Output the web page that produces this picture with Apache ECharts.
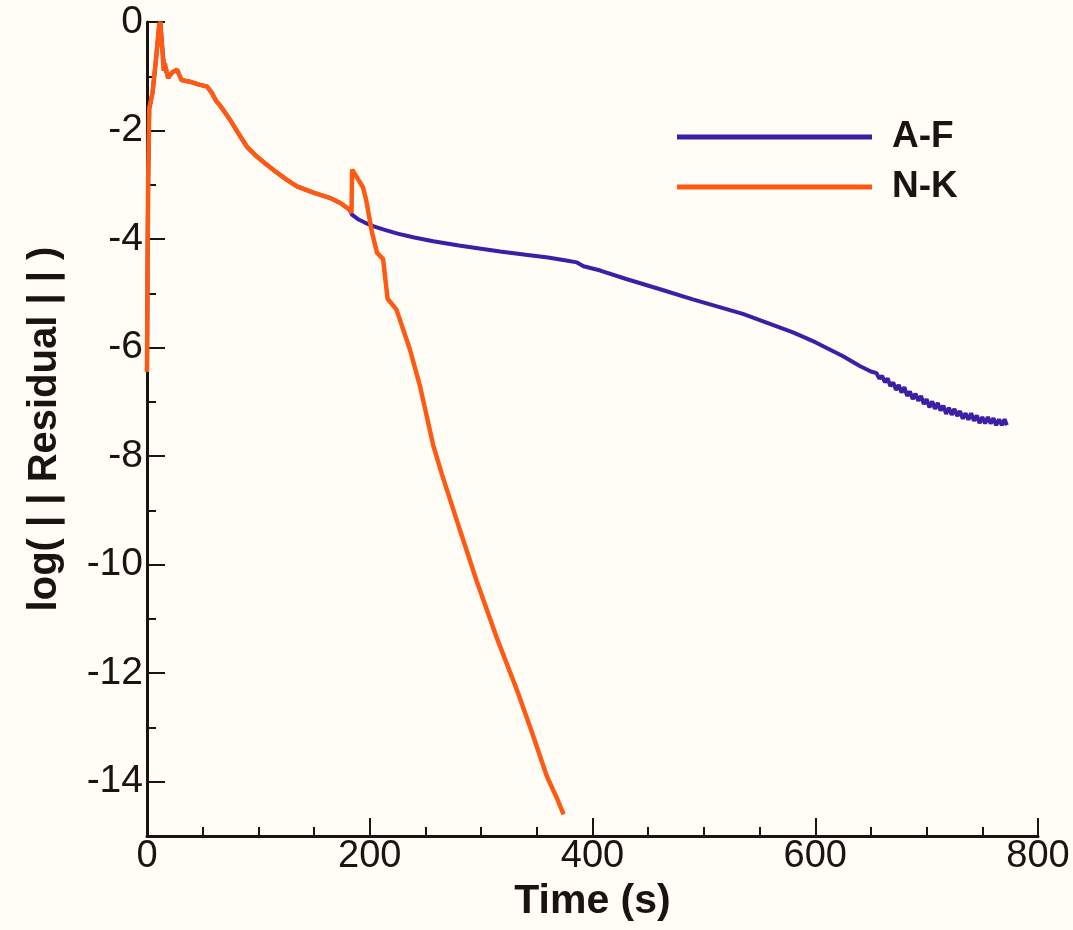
<!DOCTYPE html>
<html>
<head>
<meta charset="utf-8">
<script src="https://cdn.jsdelivr.net/npm/echarts@6/dist/echarts.min.js"></script>
<style>
html,body{margin:0;padding:0;background:#fffdf5;}
#chart{width:1073px;height:930px;}
</style>
</head>
<body>
<div id="chart"></div>
<script>
// ---- data ----
const xTicks = [0, 200, 400, 600, 800];
const yTicks = [0, -2, -4, -6, -8, -10, -12, -14];

const nkTime  = [0, 0.5, 1, 1.5, 2, 3, 5, 8, 11, 12, 13, 15, 16, 19, 23, 27, 31, 38.6, 46, 54, 58, 62, 66, 74.5, 82, 89.8, 97, 104, 115, 125, 134.6, 150, 164, 174, 182, 183.6, 184.2, 189, 194, 197, 202, 206.5, 212, 216, 224, 236, 245, 257, 265, 280, 296, 315, 332, 345, 359, 368, 374];
const nkValue = [-6.45, -4.5, -3.0, -2.3, -1.6, -1.5, -1.3, -0.7, -0.05, 0, -0.3, -0.9, -0.76, -1.03, -0.92, -0.88, -1.07, -1.1, -1.15, -1.19, -1.3, -1.45, -1.55, -1.8, -2.05, -2.3, -2.45, -2.57, -2.75, -2.9, -3.03, -3.15, -3.24, -3.34, -3.46, -3.52, -2.72, -2.88, -3.05, -3.3, -3.88, -4.25, -4.37, -5.1, -5.3, -6.03, -6.7, -7.8, -8.35, -9.3, -10.3, -11.4, -12.3, -13.05, -13.9, -14.3, -14.6];

const afTime  = [0, 0.5, 1, 1.5, 2, 3, 5, 8, 11, 12, 13, 15, 16, 19, 23, 27, 31, 38.6, 46, 54, 58, 62, 66, 74.5, 82, 89.8, 97, 104, 115, 125, 134.6, 150, 164, 174, 182, 184, 190, 196, 203, 212, 225, 240, 257, 280, 300, 317, 340, 360, 375, 386, 392, 407, 431, 460, 490, 535, 580, 600, 625, 640, 650,
  655, 657.5, 660, 662.5, 665, 667.5, 670, 672.5, 675, 677.5, 680, 682.5, 685, 687.5, 690, 692.5, 695, 697.5, 700, 702.5, 705, 707.5, 710, 712.5, 715, 717.5, 720, 722.5, 725, 727.5, 730, 732.5, 735, 737.5, 740, 742.5, 745, 747.5, 750, 752.5, 755, 757.5, 760, 762.5, 765, 767.5, 770, 772];
const afValue = [-6.45, -4.5, -3.0, -2.3, -1.6, -1.5, -1.3, -0.7, -0.05, 0, -0.3, -0.75, -0.76, -1.03, -0.92, -0.88, -1.07, -1.1, -1.15, -1.19, -1.3, -1.45, -1.55, -1.8, -2.05, -2.3, -2.45, -2.57, -2.75, -2.9, -3.03, -3.15, -3.24, -3.34, -3.46, -3.55, -3.64, -3.7, -3.76, -3.82, -3.9, -3.97, -4.04, -4.12, -4.18, -4.23, -4.29, -4.34, -4.39, -4.43, -4.5, -4.58, -4.74, -4.92, -5.11, -5.38, -5.72, -5.9, -6.16, -6.34, -6.44,
  -6.47, -6.57, -6.52, -6.64, -6.57, -6.71, -6.64, -6.78, -6.69, -6.83, -6.73, -6.89, -6.81, -6.95, -6.85, -6.98, -6.89, -7.04, -6.95, -7.10, -6.99, -7.13, -7.02, -7.16, -7.07, -7.22, -7.11, -7.24, -7.13, -7.26, -7.17, -7.31, -7.21, -7.33, -7.21, -7.35, -7.25, -7.39, -7.28, -7.40, -7.28, -7.40, -7.30, -7.43, -7.32, -7.43, -7.32, -7.43];

const seriesNames = ['A-F', 'N-K'];
const colors = ['#3b1fa6', '#ff5a14'];

// ---- chart ----
const pairs = (t, v) => t.map((x, i) => [x, v[i]]);
const font = "'Liberation Sans', Arial, Helvetica, sans-serif";
const ink = '#1a140e';

const chart = echarts.init(document.getElementById('chart'), null, {renderer: 'canvas'});
chart.setOption({
  backgroundColor: '#fffdf5',
  animation: false,
  grid: {left: 147, right: 35, top: 22, bottom: 94},
  legend: {
    orient: 'vertical',
    left: 672,
    top: 112,
    icon: 'rect',
    itemWidth: 195,
    itemHeight: 5,
    itemGap: 10,
    data: seriesNames,
    textStyle: {fontFamily: font, fontWeight: 'bold', fontSize: 37, color: ink, lineHeight: 40, padding: [0, 0, 0, 15]}
  },
  xAxis: {
    type: 'value', min: 0, max: 800, interval: 200,
    axisLine: {onZero: false, lineStyle: {color: ink, width: 3}},
    axisTick: {inside: true, length: 18, lineStyle: {color: ink, width: 2}},
    minorTick: {show: true, splitNumber: 4, length: 9, lineStyle: {color: ink, width: 2}},
    splitLine: {show: false},
    axisLabel: {fontFamily: font, fontSize: 38, color: ink, margin: 2,
      customValues: xTicks},
    name: 'Time (s)', nameLocation: 'middle', nameGap: 30,
    nameTextStyle: {fontFamily: font, fontWeight: 'bold', fontSize: 41, color: ink, verticalAlign: 'top', padding: [0, 0, 0, 0]}
  },
  yAxis: [{
    type: 'value', min: -15, max: 0, interval: 1,
    axisLine: {onZero: false, lineStyle: {color: ink, width: 3}},
    axisTick: {inside: true, length: 9, lineStyle: {color: ink, width: 2}},
    splitLine: {show: false},
    axisLabel: {fontFamily: font, fontSize: 39, color: ink, margin: 4,
      formatter: v => (yTicks.indexOf(v) >= 0 ? String(v) : '')},
    name: 'log( | | Residual | | )', nameLocation: 'middle', nameGap: 82, nameRotate: 90,
    nameTextStyle: {fontFamily: font, fontWeight: 'bold', fontSize: 40, color: ink}
  }, {
    type: 'value', min: -15, max: 0, position: 'left',
    axisLine: {show: false},
    axisTick: {show: true, inside: true, length: 18, customValues: yTicks, lineStyle: {color: ink, width: 2}},
    axisLabel: {show: false},
    splitLine: {show: false}
  }],
  series: [{
    name: seriesNames[0], type: 'line', yAxisIndex: 0, symbol: 'none',
    data: pairs(afTime, afValue), color: colors[0],
    lineStyle: {width: 4, color: colors[0]}
  }, {
    name: seriesNames[1], type: 'line', yAxisIndex: 0, symbol: 'none',
    data: pairs(nkTime, nkValue), color: colors[1],
    lineStyle: {width: 4.5, color: colors[1]}
  }]
});
</script>
</body>
</html>
